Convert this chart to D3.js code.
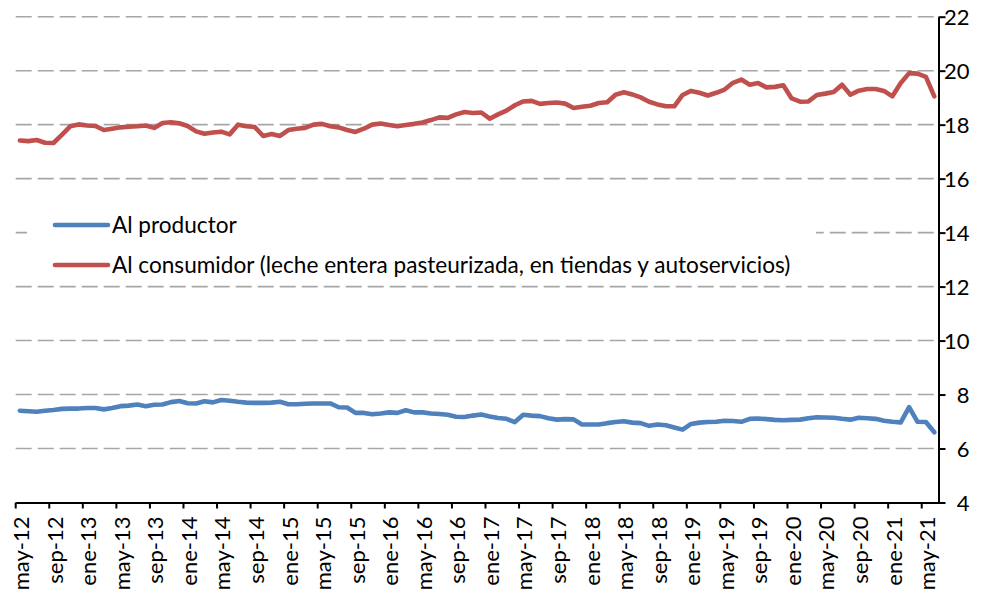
<!DOCTYPE html>
<html>
<head>
<meta charset="utf-8">
<script src="https://cdn.jsdelivr.net/npm/d3@7"></script>
<style>
  html, body { margin: 0; padding: 0; background: #fff; }
  svg { display: block; font-family: Lato, "Open Sans", sans-serif; }
</style>
</head>
<body>
<svg id="chart" width="987" height="597"></svg>
<script>
// ---- DATA ----
const monthNames = ["ene","feb","mar","abr","may","jun","jul","ago","sep","oct","nov","dic"];
// Monthly categories may-12 ... jun-21
const categories = [];
for (let yr = 12; yr <= 21; yr++) {
  for (let m = 0; m < 12; m++) {
    if (yr === 12 && m < 4) continue;
    if (yr === 21 && m > 5) continue;
    categories.push(monthNames[m] + "-" + yr);
  }
}
const tickLabels = ["may-12","sep-12","ene-13","may-13","sep-13","ene-14","may-14","sep-14",
  "ene-15","may-15","sep-15","ene-16","may-16","sep-16","ene-17","may-17","sep-17","ene-18",
  "may-18","sep-18","ene-19","may-19","sep-19","ene-20","may-20","sep-20","ene-21","may-21"];
const yTicks = [4, 6, 8, 10, 12, 14, 16, 18, 20, 22];

const seriesNames = ["Al productor",
  "Al consumidor (leche entera pasteurizada, en tiendas y autoservicios)"];

const productor = [
  7.40,7.38,7.36,7.40,7.43,7.47,7.48,7.48,7.50,7.50,
  7.45,7.50,7.57,7.59,7.63,7.57,7.62,7.63,7.72,7.76,
  7.68,7.67,7.75,7.71,7.80,7.77,7.73,7.70,7.69,7.69,
  7.70,7.73,7.64,7.64,7.66,7.67,7.67,7.67,7.53,7.52,
  7.32,7.32,7.27,7.30,7.34,7.32,7.42,7.34,7.34,7.30,
  7.28,7.25,7.18,7.17,7.22,7.26,7.19,7.13,7.10,6.98,
  7.25,7.22,7.20,7.12,7.07,7.09,7.08,6.89,6.89,6.89,
  6.94,6.98,7.01,6.96,6.94,6.84,6.89,6.86,6.78,6.70,
  6.91,6.96,6.98,6.99,7.03,7.02,6.99,7.10,7.11,7.09,
  7.06,7.05,7.06,7.07,7.12,7.16,7.15,7.14,7.10,7.07,
  7.14,7.12,7.10,7.03,6.99,6.97,7.53,6.99,6.98,6.60
];
const consumidor = [
  17.41,17.39,17.43,17.33,17.32,17.62,17.94,18.01,17.97,17.95,
  17.80,17.85,17.90,17.92,17.94,17.97,17.88,18.06,18.09,18.05,
  17.95,17.75,17.66,17.71,17.74,17.64,18.00,17.94,17.91,17.58,
  17.65,17.58,17.80,17.85,17.88,18.00,18.03,17.94,17.90,17.80,
  17.73,17.85,18.00,18.04,17.99,17.94,17.99,18.03,18.08,18.17,
  18.27,18.25,18.38,18.47,18.43,18.45,18.22,18.38,18.52,18.72,
  18.86,18.88,18.77,18.80,18.82,18.78,18.62,18.66,18.70,18.80,
  18.83,19.11,19.20,19.12,19.01,18.85,18.75,18.68,18.68,19.10,
  19.25,19.18,19.08,19.18,19.30,19.55,19.67,19.48,19.54,19.38,
  19.40,19.46,18.97,18.85,18.86,19.10,19.15,19.21,19.48,19.11,
  19.26,19.32,19.32,19.25,19.05,19.54,19.91,19.89,19.77,19.05
];
const colors = ["#4F81BD", "#C0504D"];

// ---- LAYOUT ----
const svg = d3.select("#chart");
const plotLeft = 15.7, plotRight = 938.5, plotTop = 16.7, plotBottom = 502.5;

const x = d3.scaleBand().domain(categories).range([plotLeft, plotRight]).paddingInner(0).paddingOuter(0);
const y = d3.scaleLinear().domain([4, 22]).range([plotBottom, plotTop]);
const bw = x.bandwidth();

// gridlines
svg.append("g").selectAll("line")
  .data(yTicks.filter(d => d > 4))
  .join("line")
  .attr("x1", plotLeft).attr("x2", plotRight)
  .attr("y1", d => y(d)).attr("y2", d => y(d))
  .attr("stroke", "#A6A6A6").attr("stroke-width", 1.6)
  .attr("stroke-dasharray", "16,6");

// legend background
svg.append("rect").attr("x", 27).attr("y", 205).attr("width", 789).attr("height", 78).attr("fill", "#fff");

// x axis
const xAxis = d3.axisBottom(x).tickValues(tickLabels).tickSize(6).tickSizeOuter(0);
const gx = svg.append("g").attr("transform", `translate(0,${plotBottom})`).call(xAxis);
gx.select(".domain").attr("stroke", "#000").attr("stroke-width", 2);
gx.selectAll(".tick line").attr("stroke", "#000").attr("stroke-width", 2)
  .attr("transform", `translate(${-bw / 2},0)`);
gx.selectAll(".tick text")
  .attr("font-family", "Lato, sans-serif").attr("font-size", 22).attr("fill", "#000")
  .attr("text-anchor", "end")
  .attr("x", -14).attr("y", 0).attr("dy", "0.35em")
  .attr("transform", "translate(1.5,0) rotate(-90)");

// y axis (right)
const yAxis = d3.axisRight(y).tickValues(yTicks).tickSize(7).tickSizeOuter(0);
const gy = svg.append("g").attr("transform", `translate(${plotRight},0)`).call(yAxis);
gy.select(".domain").attr("stroke", "#000").attr("stroke-width", 2);
gy.selectAll(".tick line").attr("stroke", "#000").attr("stroke-width", 2);
gy.selectAll(".tick text")
  .attr("font-family", "Lato, sans-serif").attr("font-size", 22).attr("fill", "#000")
  .attr("text-anchor", "end").attr("x", 31).attr("dy", "0.36em");

// lines
const line = d3.line()
  .x((d, i) => x(categories[i]) + bw / 2)
  .y(d => y(d));
[productor, consumidor].forEach((s, k) => {
  svg.append("path").datum(s)
    .attr("d", line)
    .attr("fill", "none")
    .attr("stroke", colors[k])
    .attr("stroke-width", 4.6)
    .attr("stroke-linejoin", "round")
    .attr("stroke-linecap", "round");
});

// legend
const legendY = [225, 265];
seriesNames.forEach((name, k) => {
  svg.append("line")
    .attr("x1", 55).attr("x2", 108)
    .attr("y1", legendY[k]).attr("y2", legendY[k])
    .attr("stroke", colors[k]).attr("stroke-width", 4.6).attr("stroke-linecap", "round");
  svg.append("text")
    .attr("x", 112).attr("y", legendY[k] + 7.5)
    .attr("font-family", "Lato, sans-serif").attr("font-size", 22.6).attr("fill", "#000")
    .text(name);
});
</script>
</body>
</html>
